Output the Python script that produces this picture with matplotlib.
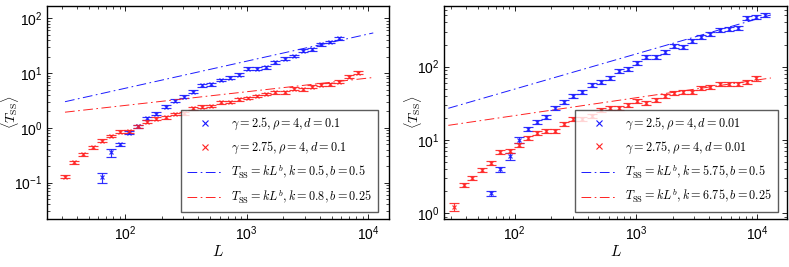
import numpy as np
import matplotlib
matplotlib.use("Agg")
import matplotlib.pyplot as plt
from matplotlib.lines import Line2D

plt.rcParams['mathtext.fontset'] = 'cm'
plt.rcParams['font.family'] = ['Liberation Sans', 'DejaVu Sans']
plt.rcParams['lines.scale_dashes'] = False

# ---------------- data ----------------
L_red_left = [32, 38, 45, 54, 64, 76, 91, 108, 128, 152, 181, 215, 256, 304, 362, 431,
              512, 609, 724, 861, 1024, 1218, 1448, 1722, 2048, 2435, 2896, 3444, 4096,
              4871, 5793, 6889, 8192]
T_red_left = [0.129, 0.235, 0.33, 0.44, 0.585, 0.71, 0.85, 0.87, 1.07, 1.30, 1.47, 1.56,
              1.79, 1.85, 2.28, 2.44, 2.51, 2.93, 2.97, 3.33, 3.52, 3.82, 4.16, 4.47, 4.47,
              5.2, 5.06, 5.65, 6.15, 6.3, 6.96, 8.6, 10.2]
E_red_left = [0.06, 0.06, 0.06, 0.06, 0.06, 0.06, 0.06, 0.06, 0.06, 0.06, 0.06, 0.06,
              0.06, 0.06, 0.06, 0.06, 0.06, 0.06, 0.06, 0.06, 0.06, 0.06, 0.06, 0.06, 0.06,
              0.06, 0.06, 0.06, 0.06, 0.06, 0.06, 0.07, 0.07]

L_blue_left = [64, 76, 91, 108, 128, 152, 181, 215, 256, 304, 362, 431, 512, 609, 724,
               861, 1024, 1218, 1448, 1722, 2048, 2435, 2896, 3444, 4096, 4871, 5793]
T_blue_left = [0.125, 0.355, 0.50, 0.82, 1.07, 1.50, 1.82, 2.44, 3.15, 3.7, 4.6, 6.0, 6.2,
               7.5, 8.2, 9.3, 12.0, 12.0, 12.8, 15.7, 18.3, 20.5, 25.6, 27.2, 33.5, 36.9, 43.0]
E_blue_left = [0.22, 0.18, 0.07, 0.06, 0.06, 0.06, 0.06, 0.06, 0.06, 0.06, 0.06, 0.06, 0.06,
               0.06, 0.06, 0.06, 0.06, 0.06, 0.06, 0.06, 0.06, 0.06, 0.06, 0.06, 0.06, 0.06, 0.06]

L_red_right = [32, 38, 45, 54, 64, 76, 91, 108, 128, 152, 181, 215, 256, 304, 362, 431,
               512, 609, 724, 861, 1024, 1218, 1448, 1722, 2048, 2435, 2896, 3444, 4096,
               4871, 5793, 6889, 8192, 9742]
T_red_right = [1.22, 2.43, 3.06, 3.9, 4.9, 6.86, 7.15, 8.6, 10.5, 12.3, 13.4, 13.4, 16.7,
               19.3, 19.1, 21.2, 25.6, 27.0, 27.0, 29.7, 34.4, 31.6, 35.2, 39.8, 43.3, 44.7,
               45.6, 50.7, 52.4, 58.0, 58.0, 58.0, 62.4, 69.5]
E_red_right = [0.12, 0.06, 0.06, 0.06, 0.06, 0.06, 0.06, 0.06, 0.06, 0.06, 0.06, 0.06, 0.06,
               0.06, 0.06, 0.06, 0.06, 0.06, 0.06, 0.06, 0.06, 0.06, 0.06, 0.06, 0.06, 0.06,
               0.06, 0.06, 0.06, 0.06, 0.06, 0.06, 0.06, 0.08]

L_blue_right = [64, 76, 91, 108, 128, 152, 181, 215, 256, 304, 362, 431, 512, 609, 724,
                861, 1024, 1218, 1448, 1722, 2048, 2435, 2896, 3444, 4096, 4871, 5793,
                6889, 8192, 9742, 11585]
T_blue_right = [1.87, 3.98, 6.0, 10.0, 14.0, 17.4, 20.4, 27.1, 32.7, 40.3, 45.7, 56.3, 62.4,
                69.3, 88.0, 93.0, 111.0, 137.0, 134.0, 157.0, 191.0, 187.0, 226.0, 252.0,
                279.0, 317.0, 327.0, 334.0, 457.0, 472.0, 507.0]
E_blue_right = [0.07, 0.07, 0.1, 0.08, 0.06, 0.06, 0.06, 0.06, 0.06, 0.06, 0.06, 0.06, 0.06,
                0.06, 0.06, 0.06, 0.06, 0.06, 0.06, 0.06, 0.06, 0.06, 0.06, 0.06, 0.06, 0.06,
                0.06, 0.06, 0.06, 0.06, 0.06]

# fit parameters quoted in the legends
fit_left = [(0.5, 0.5), (0.8, 0.25)]
fit_right = [(5.75, 0.5), (6.75, 0.25)]
# fit lines as drawn (end points): L range and values
fit_L_left = [32, 11000]
fit_T_left_blue = [3.0, 54.0]
fit_T_left_red = [1.93, 8.3]
fit_L_right = [28.5, 12900]
fit_T_right_blue = [27.0, 507.0]
fit_T_right_red = [15.8, 70.0]

labels_left = [r'$\gamma = 2.5, \rho = 4, d = 0.1$', r'$\gamma = 2.75, \rho = 4, d = 0.1$']
labels_right = [r'$\gamma = 2.5, \rho = 4, d = 0.01$', r'$\gamma = 2.75, \rho = 4, d = 0.01$']

BLUE = '#1a1aff'
RED = '#ff2222'
DASH = (7, 2.5, 1.2, 2.5)

fig = plt.figure(figsize=(7.89, 2.67), dpi=100)
axL = fig.add_axes([0.060, 0.179, 0.4334, 0.7988])
axR = fig.add_axes([0.5631, 0.179, 0.4340, 0.7988])


def panel(ax, Lb, Tb, Eb, Lr, Tr, Er, fits, fitL, fitTb, fitTr, labels, xlim, ylim, legloc):
    for L, T, E, c in [(Lb, Tb, Eb, BLUE), (Lr, Tr, Er, RED)]:
        T = np.array(T)
        err = T * np.array(E)
        ax.errorbar(L, T, yerr=err, fmt='x', color=c, ms=3.4, mew=0.85,
                    elinewidth=0.85, capsize=3.3, capthick=1.1, alpha=0.9)
    ax.plot(fitL, fitTb, color=BLUE, lw=0.7, dashes=DASH)
    ax.plot(fitL, fitTr, color=RED, lw=0.7, dashes=DASH)
    ax.set_xscale('log')
    ax.set_yscale('log')
    ax.set_xlim(*xlim)
    ax.set_ylim(*ylim)
    ax.tick_params(which='both', direction='in', top=True, right=True, labelsize=10)
    ax.tick_params(which='major', length=3.5, width=0.6)
    ax.tick_params(which='minor', length=2, width=0.5)
    for s in ax.spines.values():
        s.set_linewidth(1.0)
    ax.set_xlabel(r'$L$', fontsize=11, labelpad=1)
    ax.set_ylabel(r'$\langle T_{\rm SS}\rangle$', fontsize=10, labelpad=-5)
    handles = [
        Line2D([], [], ls='none', marker='x', color=BLUE, ms=4, mew=0.8),
        Line2D([], [], ls='none', marker='x', color=RED, ms=4, mew=0.8),
        Line2D([], [], color=BLUE, lw=0.7, dashes=DASH),
        Line2D([], [], color=RED, lw=0.7, dashes=DASH),
    ]
    labs = list(labels) + [
        r'$T_{\rm SS} = kL^b, k = %g, b = %g$' % fits[0],
        r'$T_{\rm SS} = kL^b, k = %g, b = %g$' % fits[1],
    ]
    leg = ax.legend(handles, labs, loc='lower right', bbox_to_anchor=legloc,
                    borderaxespad=0, fontsize=8.8, frameon=True, fancybox=False,
                    handlelength=3.0, handletextpad=0.6, borderpad=0.5,
                    labelspacing=0.62)
    leg.get_frame().set_edgecolor('#333333')
    leg.get_frame().set_linewidth(1.0)


panel(axL, L_blue_left, T_blue_left, E_blue_left, L_red_left, T_red_left, E_red_left,
      fit_left, fit_L_left, fit_T_left_blue, fit_T_left_red, labels_left,
      (22.9, 14900), (0.0215, 168), (0.966, 0.034))
panel(axR, L_blue_right, T_blue_right, E_blue_right, L_red_right, T_red_right, E_red_right,
      fit_right, fit_L_right, fit_T_right_blue, fit_T_right_red, labels_right,
      (26.4, 17400), (0.828, 673), (0.974, 0.036))

fig.savefig('out.png', dpi=100)
